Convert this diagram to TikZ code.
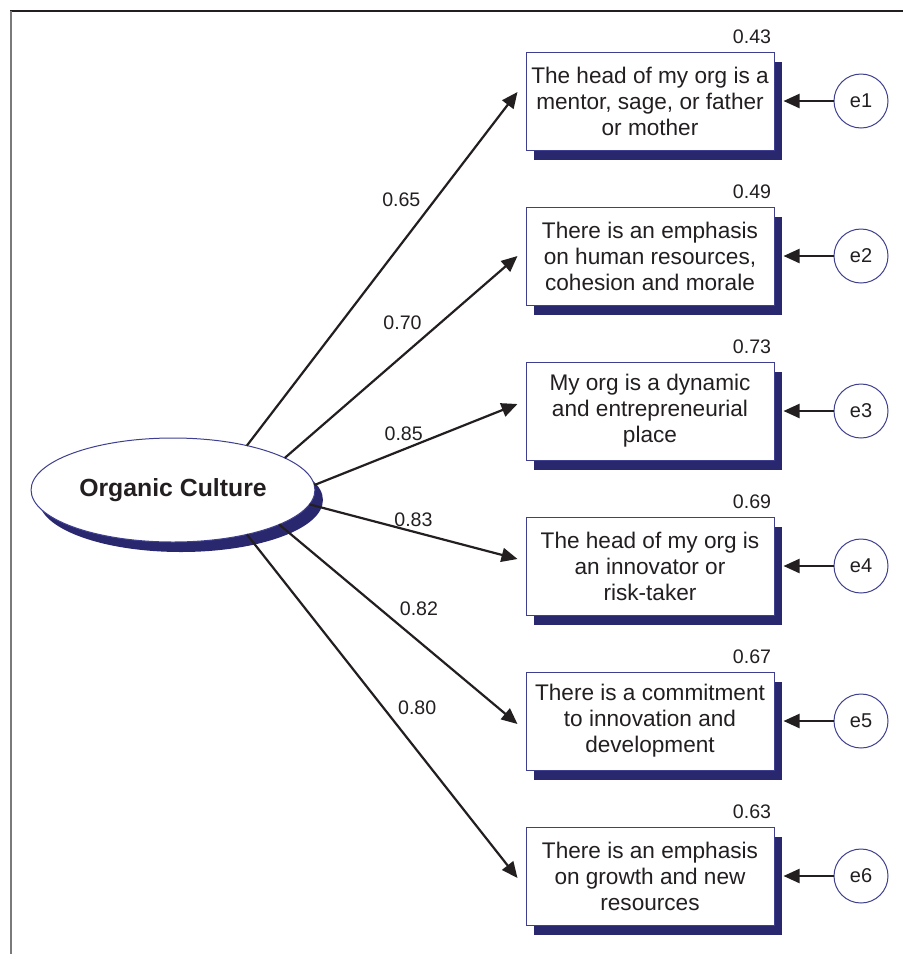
\documentclass[tikz,border=0pt]{standalone}
\usepackage{fontspec}
\setmainfont{Liberation Sans}
\usetikzlibrary{shapes.geometric,arrows.meta,positioning,shadows}
\definecolor{semnavy}{HTML}{29286F}
\definecolor{semline}{HTML}{3E3F8E}
\definecolor{semdark}{HTML}{231F20}
\definecolor{semgray}{HTML}{7A7A7A}

\begin{document}
\begin{tikzpicture}[
  x=0.5pt,y=-0.5pt,
  item/.style={draw=semline,fill=white,line width=0.5pt,align=center,minimum width=124pt,minimum height=49pt,inner sep=2pt,text=semdark,font=\fontsize{11.3}{13}\selectfont,drop shadow={shadow xshift=3.75pt,shadow yshift=-5pt,fill=semnavy,opacity=1}},
  latent/.style={ellipse,draw=semline,fill=white,line width=0.5pt,minimum width=140pt,minimum height=52pt,outer sep=0pt,text=semdark,font=\bfseries\fontsize{12.4}{14}\selectfont,drop shadow={shadow xshift=4pt,shadow yshift=-5pt,fill=semnavy,opacity=1}},
  err/.style={circle,draw=semline,fill=white,line width=0.5pt,minimum size=27pt,inner sep=0pt,text=semdark,font=\fontsize{10}{11}\selectfont},
  coef/.style={text=semdark,inner sep=2pt,font=\fontsize{9.8}{11}\selectfont},
  rsq/.style={text=semdark,inner sep=0pt,anchor=base east,font=\fontsize{9.8}{11}\selectfont},
  arr/.style={-{Triangle[length=8pt,width=7pt]},semdark,line width=1.1pt}
]
\useasboundingbox (0,0) rectangle (903,954);
% frame
\draw[semdark,line width=0.75pt] (10,11) -- (903,11);
\draw[semgray,line width=1pt] (10.5,11) -- (10.5,954);
% latent factor
\node[latent] (oc) at (173,490) {Organic Culture};
% indicators
\node[item] (b1) at (650,101) {The head of my org is a\\mentor, sage, or father\\or mother};
\node[item,below=28pt of b1] (b2) {There is an emphasis\\on human resources,\\cohesion and morale};
\node[item,below=28pt of b2] (b3) {My org is a dynamic\\and entrepreneurial\\place};
\node[item,below=28pt of b3] (b4) {The head of my org is\\an innovator or\\risk-taker};
\node[item,below=28pt of b4] (b5) {There is a commitment\\to innovation and\\development};
\node[item,below=28pt of b5] (b6) {There is an emphasis\\on growth and new\\resources};
% squared multiple correlations
\node[rsq] (r1) at ([xshift=-1.5pt,yshift=4pt]b1.north east) {0.43};
\node[rsq] (r2) at ([xshift=-1.5pt,yshift=4pt]b2.north east) {0.49};
\node[rsq] (r3) at ([xshift=-1.5pt,yshift=4pt]b3.north east) {0.73};
\node[rsq] (r4) at ([xshift=-1.5pt,yshift=4pt]b4.north east) {0.69};
\node[rsq] (r5) at ([xshift=-1.5pt,yshift=4pt]b5.north east) {0.67};
\node[rsq] (r6) at ([xshift=-1.5pt,yshift=4pt]b6.north east) {0.63};
% error terms
\node[err,right=29.5pt of b1] (e1) {e1};
\node[err,right=29.5pt of b2] (e2) {e2};
\node[err,right=29.5pt of b3] (e3) {e3};
\node[err,right=29.5pt of b4] (e4) {e4};
\node[err,right=29.5pt of b5] (e5) {e5};
\node[err,right=29.5pt of b6] (e6) {e6};

% loadings
\draw[arr] (oc.31) -- ([xshift=-4pt,yshift=4.5pt]b1.west) node[coef,pos=0.66,above left] {0.65};
\draw[arr] (oc.16) -- ([xshift=-4pt]b2.west) node[coef,pos=0.61,above left] {0.70};
\draw[arr] (oc.2) -- ([xshift=-4pt,yshift=3.5pt]b3.west) node[coef,pos=0.44,above=2pt] {0.85};
\draw[arr] (oc.-6) -- ([xshift=-4pt,yshift=3.5pt]b4.west) node[coef,pos=0.5,above] {0.83};
\draw[arr] (oc.-18) -- ([xshift=-4pt,yshift=-1.5pt]b5.west) node[coef,pos=0.485,above right] {0.82};
\draw[arr] (oc.-31) -- ([xshift=-4pt,yshift=-1pt]b6.west) node[coef,pos=0.54,above right] {0.80};
% residuals
\draw[arr] (e1) -- ([xshift=4.5pt]b1.east);
\draw[arr] (e2) -- ([xshift=4.5pt]b2.east);
\draw[arr] (e3) -- ([xshift=4.5pt]b3.east);
\draw[arr] (e4) -- ([xshift=4.5pt]b4.east);
\draw[arr] (e5) -- ([xshift=4.5pt]b5.east);
\draw[arr] (e6) -- ([xshift=4.5pt]b6.east);
\end{tikzpicture}
\end{document}
